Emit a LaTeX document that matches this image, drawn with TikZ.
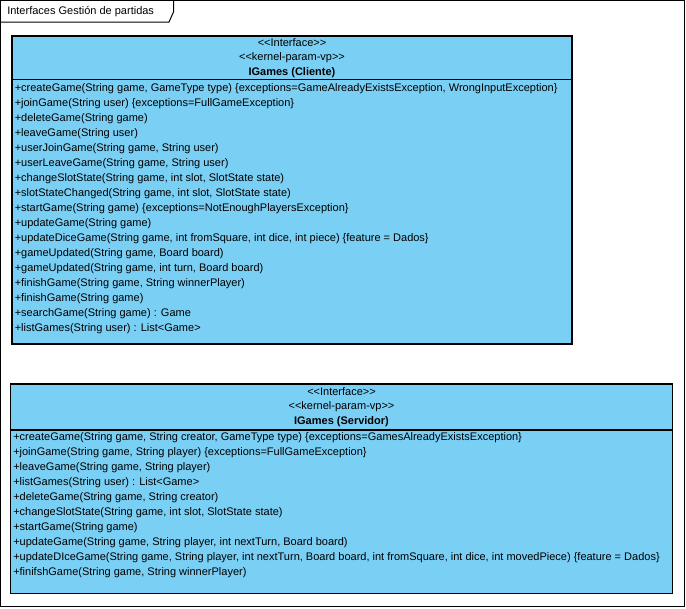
\documentclass[tikz,border=0pt]{standalone}
\usepackage{fontspec}
\setmainfont{Liberation Sans}[Ligatures=TeXOff]
\definecolor{umlblue}{RGB}{122,207,245}
\begin{document}
\begin{tikzpicture}[x=0.75pt,y=-0.75pt,
  frame/.style={draw=black, line width=0.75pt},
  box/.style={draw=black, fill=umlblue, line width=0.9pt},
  umltext/.style={inner sep=0pt, font=\fontsize{8.25}{10}\selectfont},
  op/.style={umltext, anchor=west},
  hdr/.style={umltext, anchor=center},
  ttl/.style={umltext, anchor=center, font=\fontsize{8.25}{10}\selectfont\bfseries}]
\useasboundingbox (0,0) rectangle (686,608);
\fill[white] (0,0) rectangle (686,608);
% package frame
\draw[frame] (0.5,0.5) rectangle (684.5,606.5);
\draw[frame] (0.5,22) -- (169,22) -- (173.5,12) -- (173.5,0.5);
\node[op] (pkg) at (7,12) {Interfaces Gestión de partidas};

% class 1
\draw[box] (12,36) rectangle (572,344);
\draw[line width=0.9pt] (12,79.5) -- (572,79.5);
\node[hdr] (c1s1) at (292,43) {<<Interface>>};
\node[hdr] (c1s2) at (292,58) {<<kernel-param-vp>>};
\node[ttl] (c1t) at (292,72.5) {IGames (Cliente)};
\foreach \t [count=\i from 0] in {
 {+createGame(String game, GameType type) \{exceptions=GameAlreadyExistsException, WrongInputException\}},
 {+joinGame(String user) \{exceptions=FullGameException\}},
 {+deleteGame(String game)},
 {+leaveGame(String user)},
 {+userJoinGame(String game, String user)},
 {+userLeaveGame(String game, String user)},
 {+changeSlotState(String game, int slot, SlotState state)},
 {+slotStateChanged(String game, int slot, SlotState state)},
 {+startGame(String game) \{exceptions=NotEnoughPlayersException\}},
 {+updateGame(String game)},
 {+updateDiceGame(String game, int fromSquare, int dice, int piece) \{feature = Dados\}},
 {+gameUpdated(String game, Board board)},
 {+gameUpdated(String game, int turn, Board board)},
 {+finishGame(String game, String winnerPlayer)},
 {+finishGame(String game)},
 {+searchGame(String game) : Game},
 {+listGames(String user) : List<Game>}}
 \node[op] (c1op\i) at (14.5,{89+15*\i}) {\t};

% class 2
\draw[box] (10.5,384) rectangle (672.5,593.5);
\draw[line width=0.9pt] (10.5,430) -- (672.5,430);
\node[hdr] (c2s1) at (341.5,392) {<<Interface>>};
\node[hdr] (c2s2) at (341.5,407) {<<kernel-param-vp>>};
\node[ttl] (c2t) at (341.5,422) {IGames (Servidor)};
\foreach \t [count=\i from 0] in {
 {+createGame(String game, String creator, GameType type) \{exceptions=GamesAlreadyExistsException\}},
 {+joinGame(String game, String player) \{exceptions=FullGameException\}},
 {+leaveGame(String game, String player)},
 {+listGames(String user) : List<Game>},
 {+deleteGame(String game, String creator)},
 {+changeSlotState(String game, int slot, SlotState state)},
 {+startGame(String game)},
 {+updateGame(String game, String player, int nextTurn, Board board)},
 {+updateDIceGame(String game, String player, int nextTurn, Board board, int fromSquare, int dice, int movedPiece) \{feature = Dados\}},
 {+finifshGame(String game, String winnerPlayer)}}
 \node[op] (c2op\i) at (13,{438+15*\i}) {\t};
\end{tikzpicture}
\end{document}
